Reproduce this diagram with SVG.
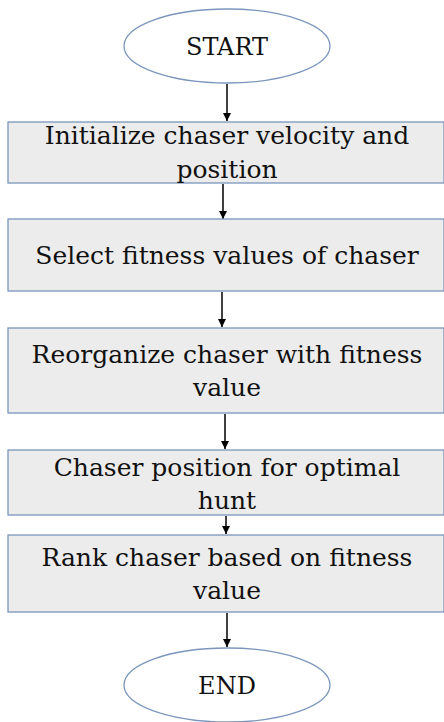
<svg xmlns="http://www.w3.org/2000/svg" width="444" height="722" viewBox="0 0 444 722">
<defs>
<style>
.box{fill:#ececec;stroke:#7b96bd;stroke-width:1.3}
.ell{fill:#ffffff;stroke:#7b96bd;stroke-width:1.3}
.t{font-family:"DejaVu Serif","Liberation Serif",serif;font-size:25px;fill:#111;text-anchor:middle}
.e{font-size:24px}
.c{stroke:#000;stroke-width:1.5;fill:none;marker-end:url(#ah)}
</style>
<marker id="ah" viewBox="0 0 10 10" refX="10" refY="5" markerWidth="8" markerHeight="8" markerUnits="userSpaceOnUse" orient="auto">
<path d="M0,0 L10,5 L0,10 z" fill="#000"/>
</marker>
</defs>
<rect width="444" height="722" fill="#ffffff"/>
<g id="connectors">
<line class="c" x1="227" y1="84" x2="227" y2="121"/>
<line class="c" x1="223" y1="184" x2="223" y2="219"/>
<line class="c" x1="222" y1="292" x2="222" y2="327"/>
<line class="c" x1="225" y1="414" x2="225" y2="449"/>
<line class="c" x1="226" y1="516" x2="226" y2="534"/>
<line class="c" x1="227" y1="613" x2="227" y2="647"/>
</g>
<g id="start">
<ellipse class="ell" cx="227" cy="46" rx="103" ry="37"/>
<text class="t e" x="227" y="55">START</text>
</g>
<g id="init">
<rect class="box" x="8" y="122" width="436" height="61"/>
<text class="t" x="227" y="144">Initialize chaser velocity and</text>
<text class="t" x="227" y="178">position</text>
</g>
<g id="select">
<rect class="box" x="8" y="219" width="436" height="72"/>
<text class="t" x="227" y="264">Select fitness values of chaser</text>
</g>
<g id="reorg">
<rect class="box" x="8" y="328" width="436" height="85"/>
<text class="t" x="227" y="363">Reorganize chaser with fitness</text>
<text class="t" x="227" y="396">value</text>
</g>
<g id="chaserpos">
<rect class="box" x="8" y="450" width="436" height="65"/>
<text class="t" x="227" y="476">Chaser position for optimal</text>
<text class="t" x="227" y="509">hunt</text>
</g>
<g id="rank">
<rect class="box" x="8" y="535" width="436" height="77"/>
<text class="t" x="227" y="566">Rank chaser based on fitness</text>
<text class="t" x="227" y="599">value</text>
</g>
<g id="end">
<ellipse class="ell" cx="227" cy="685" rx="103" ry="37"/>
<text class="t e" x="227" y="694">END</text>
</g>
</svg>
